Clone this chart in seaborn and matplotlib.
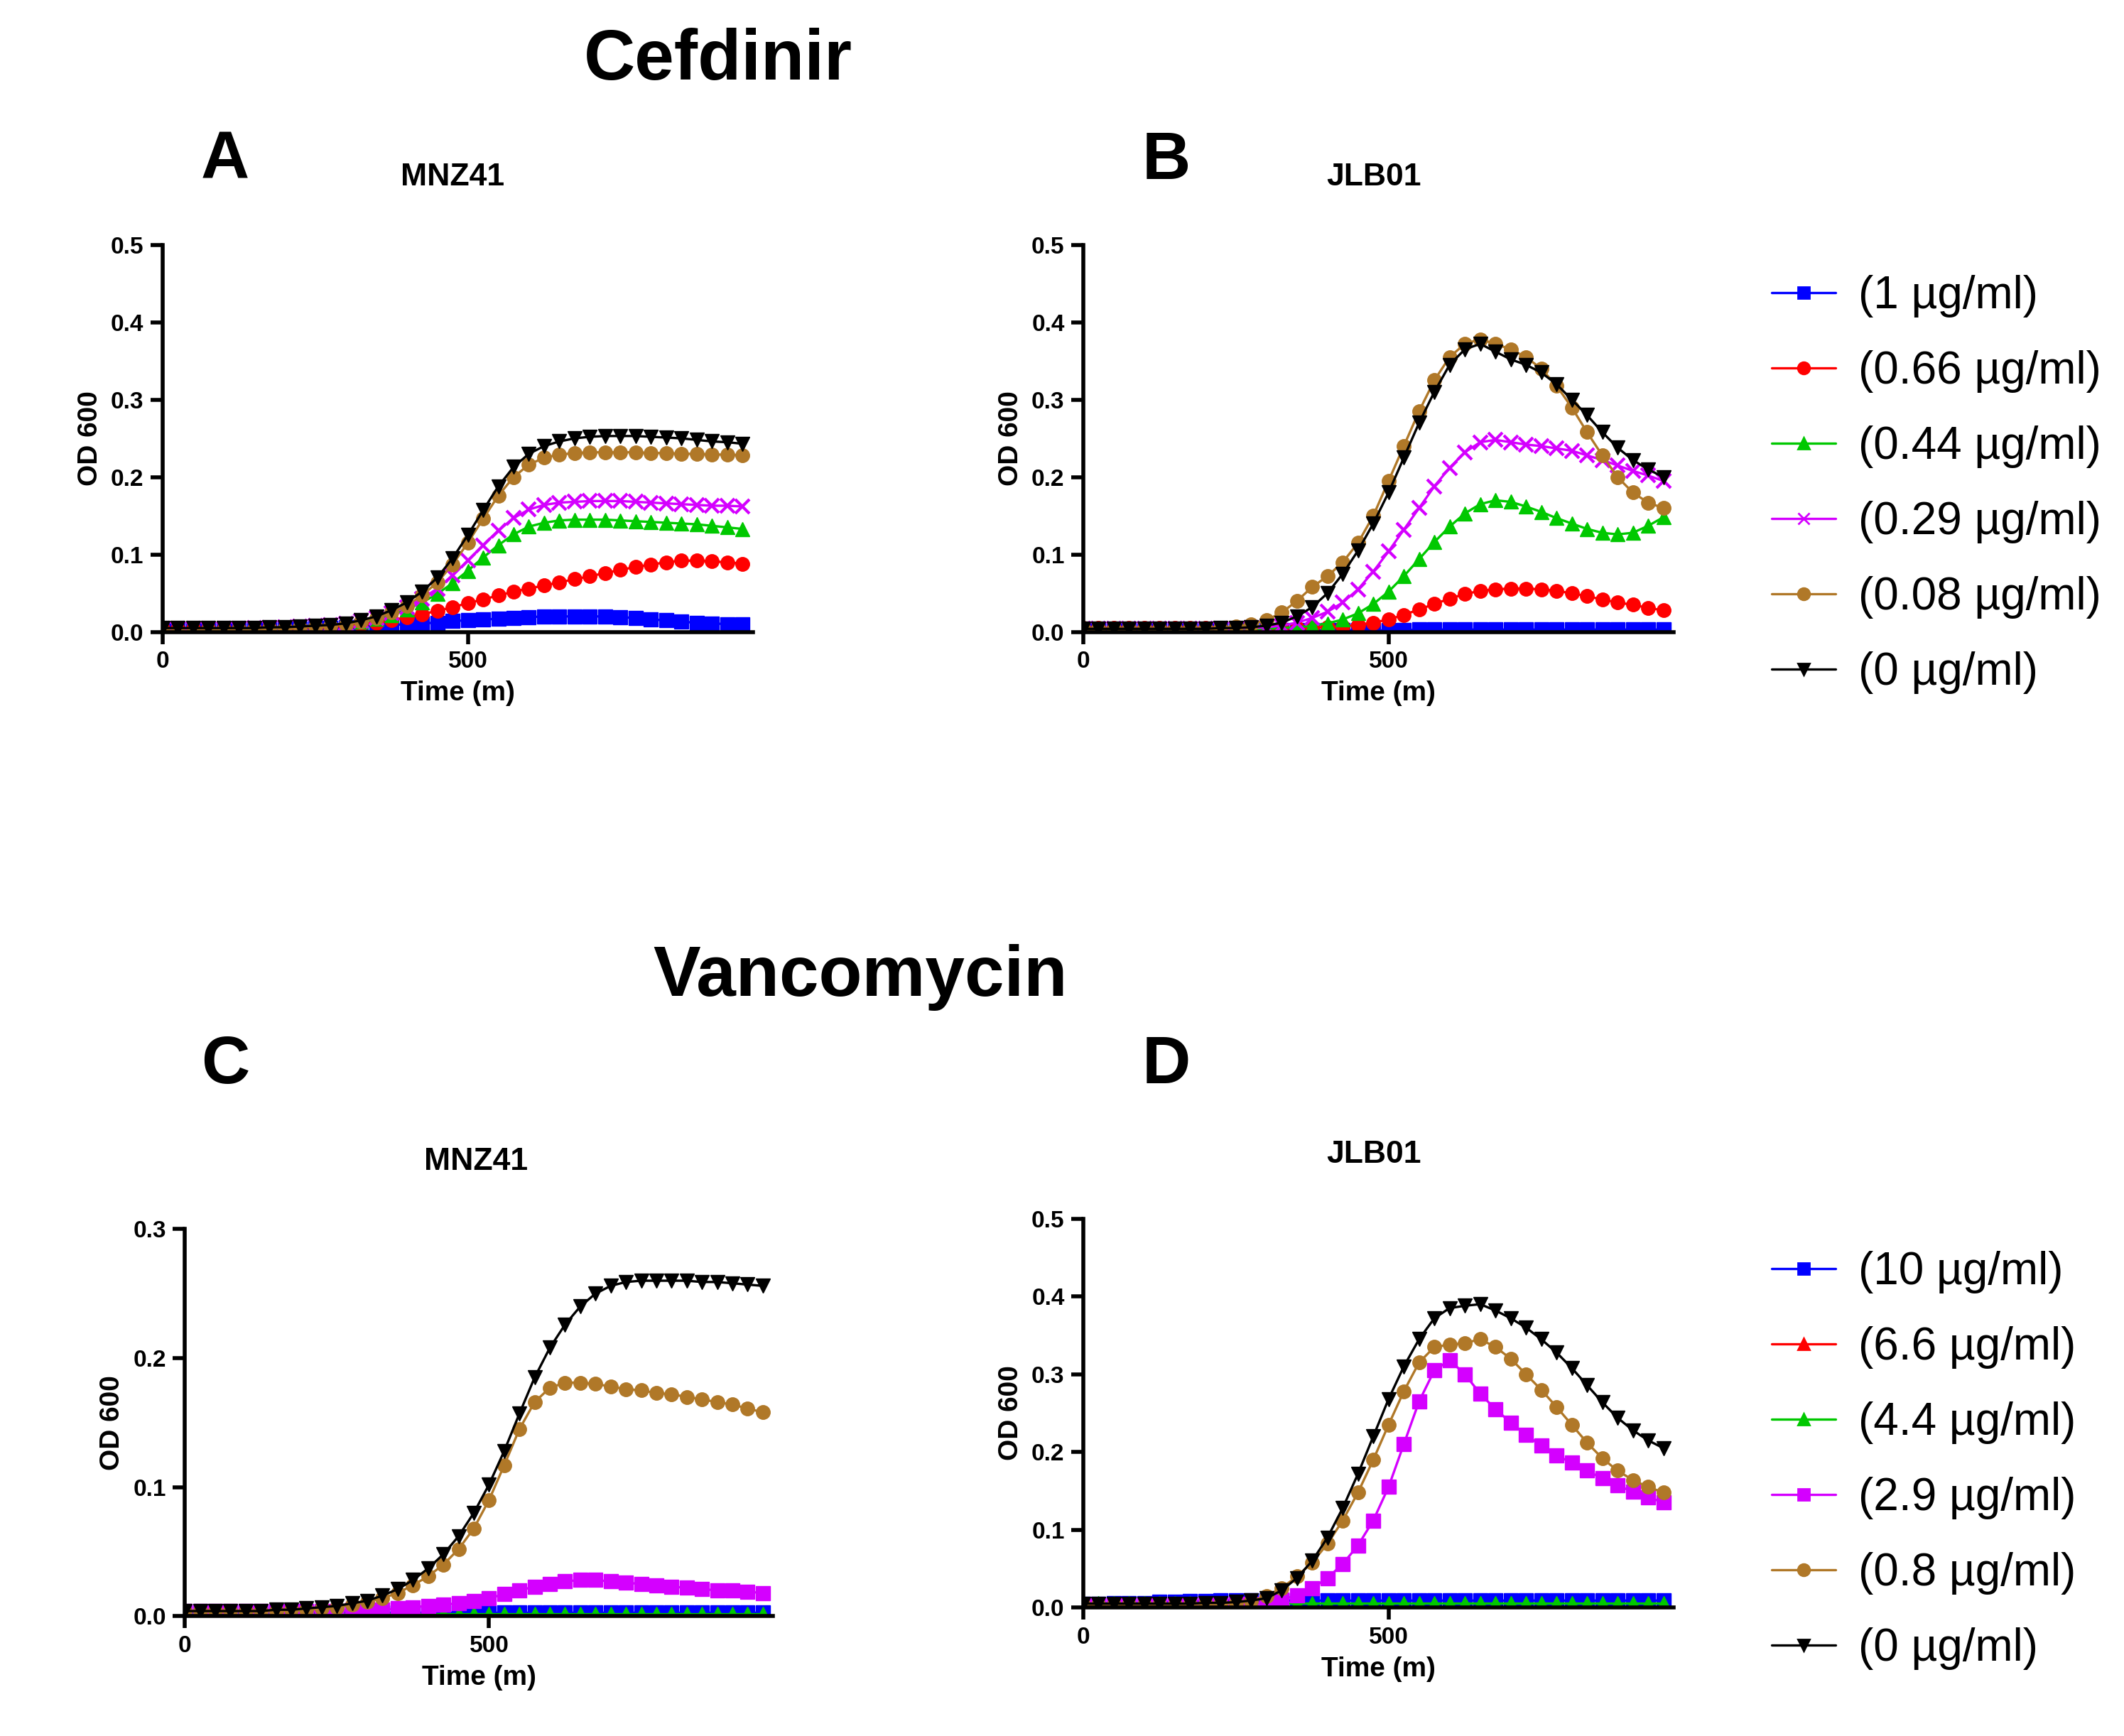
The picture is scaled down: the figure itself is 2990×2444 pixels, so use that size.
import matplotlib
matplotlib.use("Agg")
import matplotlib.pyplot as plt
import seaborn as sns
from matplotlib.lines import Line2D

sns.set_theme(style="ticks")
plt.rcParams['font.family'] = ['Liberation Sans', 'DejaVu Sans']
plt.rcParams['text.color'] = 'black'
plt.rcParams['axes.labelcolor'] = 'black'
plt.rcParams['xtick.color'] = 'black'
plt.rcParams['ytick.color'] = 'black'

t = [0,25,50,75,100,125,150,175,200,225,250,275,300,325,350,375,400,425,450,475,
     500,525,550,575,600,625,650,675,700,725,750,775,800,825,850,875,900,925,950]

A_black = [0.005,0.005,0.005,0.005,0.005,0.005,0.005,0.006,0.006,0.007,0.008,0.009,0.011,0.015,0.020,0.028,0.038,0.052,0.070,0.095,0.125,0.157,0.188,0.213,0.230,0.240,0.246,0.250,0.252,0.253,0.253,0.253,0.252,0.251,0.250,0.248,0.246,0.245,0.243]
A_brown = [0.001,0.001,0.001,0.002,0.002,0.003,0.003,0.004,0.005,0.006,0.007,0.008,0.010,0.013,0.018,0.025,0.034,0.047,0.064,0.087,0.115,0.146,0.176,0.200,0.216,0.225,0.229,0.231,0.232,0.232,0.232,0.232,0.231,0.231,0.230,0.230,0.229,0.229,0.228]
A_magenta = [0.004,0.004,0.004,0.004,0.004,0.004,0.005,0.005,0.006,0.007,0.008,0.009,0.011,0.014,0.018,0.024,0.032,0.043,0.056,0.073,0.092,0.112,0.131,0.147,0.158,0.164,0.167,0.168,0.169,0.169,0.169,0.168,0.167,0.166,0.165,0.164,0.163,0.163,0.162]
A_green = [0.004,0.004,0.004,0.004,0.004,0.004,0.005,0.005,0.006,0.007,0.008,0.009,0.011,0.013,0.017,0.022,0.029,0.038,0.049,0.063,0.079,0.096,0.112,0.126,0.136,0.141,0.144,0.145,0.145,0.145,0.144,0.143,0.142,0.141,0.140,0.139,0.137,0.135,0.133]
A_red = [0.004,0.004,0.004,0.004,0.004,0.004,0.004,0.005,0.005,0.005,0.006,0.007,0.008,0.010,0.012,0.015,0.019,0.023,0.027,0.032,0.037,0.042,0.047,0.052,0.056,0.060,0.064,0.068,0.072,0.076,0.080,0.084,0.087,0.090,0.092,0.092,0.091,0.090,0.088]
A_blue = [0.003,0.003,0.003,0.003,0.003,0.003,0.003,0.004,0.004,0.004,0.005,0.005,0.006,0.007,0.008,0.009,0.010,0.011,0.012,0.014,0.015,0.016,0.017,0.018,0.019,0.020,0.020,0.020,0.020,0.020,0.019,0.018,0.016,0.015,0.013,0.012,0.011,0.010,0.010]

B_black = [0.004,0.004,0.004,0.004,0.004,0.004,0.004,0.004,0.004,0.005,0.005,0.006,0.008,0.012,0.020,0.032,0.050,0.075,0.105,0.140,0.180,0.225,0.270,0.310,0.345,0.365,0.372,0.362,0.352,0.345,0.335,0.320,0.300,0.280,0.258,0.238,0.222,0.210,0.200]
B_brown = [0.004,0.004,0.004,0.004,0.004,0.004,0.004,0.004,0.004,0.005,0.007,0.010,0.015,0.025,0.040,0.058,0.072,0.090,0.115,0.150,0.195,0.240,0.285,0.325,0.355,0.372,0.378,0.372,0.365,0.355,0.340,0.318,0.290,0.258,0.228,0.200,0.180,0.167,0.160]
B_magenta = [0.004,0.004,0.004,0.004,0.004,0.004,0.004,0.004,0.004,0.004,0.004,0.005,0.006,0.008,0.012,0.018,0.026,0.038,0.055,0.078,0.104,0.132,0.160,0.188,0.212,0.232,0.245,0.248,0.245,0.242,0.240,0.237,0.234,0.228,0.222,0.215,0.208,0.202,0.195]
B_green = [0.004,0.004,0.004,0.004,0.004,0.004,0.004,0.004,0.004,0.004,0.004,0.004,0.004,0.005,0.006,0.008,0.011,0.016,0.024,0.036,0.052,0.072,0.094,0.116,0.136,0.153,0.165,0.170,0.168,0.162,0.155,0.147,0.140,0.133,0.128,0.126,0.128,0.137,0.148]
B_red = [0.005,0.005,0.005,0.005,0.005,0.005,0.005,0.005,0.005,0.005,0.005,0.005,0.005,0.005,0.005,0.006,0.006,0.007,0.009,0.012,0.016,0.022,0.029,0.036,0.043,0.049,0.053,0.055,0.056,0.056,0.055,0.053,0.050,0.046,0.042,0.038,0.035,0.031,0.028]
B_blue = [0.002,0.002,0.002,0.002,0.002,0.002,0.002,0.002,0.002,0.002,0.002,0.002,0.002,0.002,0.002,0.002,0.002,0.002,0.002,0.002,0.002,0.002,0.003,0.003,0.003,0.003,0.003,0.003,0.003,0.003,0.003,0.003,0.003,0.003,0.003,0.003,0.003,0.003,0.003]

C_black = [0.004,0.004,0.004,0.004,0.004,0.004,0.005,0.005,0.006,0.007,0.008,0.010,0.012,0.016,0.021,0.028,0.037,0.048,0.062,0.080,0.102,0.128,0.157,0.185,0.208,0.226,0.240,0.250,0.256,0.259,0.260,0.260,0.260,0.260,0.259,0.259,0.258,0.257,0.256]
C_brown = [0.004,0.004,0.004,0.004,0.004,0.004,0.004,0.005,0.005,0.006,0.007,0.009,0.011,0.014,0.018,0.024,0.031,0.040,0.052,0.068,0.090,0.117,0.145,0.166,0.177,0.181,0.181,0.180,0.178,0.176,0.175,0.173,0.172,0.170,0.168,0.166,0.164,0.161,0.158]
C_magenta = [0.004,0.004,0.004,0.004,0.004,0.004,0.004,0.004,0.004,0.004,0.004,0.005,0.005,0.005,0.006,0.007,0.008,0.009,0.010,0.012,0.014,0.017,0.020,0.023,0.025,0.027,0.028,0.028,0.027,0.026,0.025,0.024,0.023,0.022,0.021,0.020,0.020,0.019,0.018]
C_green = [0.002] * 39
C_blue = [0.003] * 39
C_red = [0.0005] * 39

D_black = [0.005,0.005,0.005,0.005,0.005,0.005,0.005,0.005,0.006,0.006,0.007,0.009,0.012,0.022,0.038,0.060,0.090,0.128,0.172,0.220,0.268,0.310,0.345,0.372,0.385,0.388,0.390,0.382,0.372,0.360,0.345,0.328,0.308,0.286,0.264,0.244,0.228,0.215,0.205]
D_brown = [0.004,0.004,0.004,0.004,0.004,0.004,0.004,0.004,0.005,0.005,0.006,0.008,0.015,0.025,0.040,0.058,0.082,0.112,0.148,0.190,0.235,0.278,0.315,0.335,0.338,0.340,0.345,0.335,0.320,0.300,0.280,0.258,0.235,0.212,0.192,0.176,0.164,0.155,0.148]
D_magenta = [0.004,0.004,0.004,0.004,0.004,0.004,0.004,0.004,0.004,0.004,0.005,0.005,0.006,0.010,0.016,0.025,0.038,0.056,0.080,0.112,0.155,0.210,0.265,0.305,0.318,0.300,0.275,0.255,0.238,0.222,0.208,0.196,0.186,0.176,0.166,0.157,0.149,0.142,0.135]
D_green = [0.006] * 39
D_blue = [0.005,0.005,0.006,0.006,0.006,0.007,0.007,0.008,0.008,0.009,0.009,0.009,0.009,0.009,0.009,0.009,0.009,0.009,0.009,0.009,0.009,0.009,0.009,0.009,0.009,0.009,0.009,0.009,0.009,0.009,0.009,0.009,0.009,0.009,0.009,0.009,0.009,0.009,0.009]
D_red = [-0.001] * 39

BLUE, RED, GREEN, MAG, BROWN, BLACK = '#0000FF', '#FF0000', '#00C800', '#D400FF', '#B07828', '#000000'

cef_labels = ['(1 µg/ml)', '(0.66 µg/ml)', '(0.44 µg/ml)', '(0.29 µg/ml)', '(0.08 µg/ml)', '(0 µg/ml)']
van_labels = ['(10 µg/ml)', '(6.6 µg/ml)', '(4.4 µg/ml)', '(2.9 µg/ml)', '(0.8 µg/ml)', '(0 µg/ml)']
colors = [BLUE, RED, GREEN, MAG, BROWN, BLACK]
cef_markers = ['s', 'o', '^', 'x', 'o', 'v']
van_markers = ['s', '^', '^', 's', 'o', 'v']

fig = plt.figure(figsize=(14.95, 12.22), dpi=200)

def panel(rect, series, markers, ymax, letter, lpos, title, tpos):
    ax = fig.add_axes(rect)
    for ys, c, m in zip(series, colors, markers):
        sns.lineplot(x=t, y=ys, ax=ax, color=c, marker=m, markersize=7,
                     markeredgecolor=c, linewidth=1.2, markeredgewidth=1.5 if m == 'x' else 0.5)
    ax.set_xlim(0, 967)
    ax.set_ylim(0, ymax)
    ax.set_xticks([0, 500])
    step = 0.1
    ax.set_yticks([round(i * step, 1) for i in range(int(round(ymax / step)) + 1)])
    ax.yaxis.set_major_formatter(matplotlib.ticker.FormatStrFormatter('%.1f'))
    for s in ['top', 'right']:
        ax.spines[s].set_visible(False)
    for s in ['left', 'bottom']:
        ax.spines[s].set_linewidth(2)
        ax.spines[s].set_color('black')
    ax.tick_params(width=2, length=6, labelsize=12)
    for lab in ax.get_xticklabels() + ax.get_yticklabels():
        lab.set_fontweight('bold')
    ax.set_xlabel('Time (m)', fontsize=14, fontweight='bold')
    ax.set_ylabel('OD 600', fontsize=14, fontweight='bold')
    fig.text(lpos[0], lpos[1], letter, fontsize=34, fontweight='bold', ha='center', va='center')
    fig.text(tpos[0], tpos[1], title, fontsize=16, fontweight='bold', ha='center', va='center')
    return ax

panel([0.0765, 0.636, 0.278, 0.223], [A_blue, A_red, A_green, A_magenta, A_brown, A_black],
      cef_markers, 0.5, 'A', (0.106, 0.907), 'MNZ41', (0.213, 0.898))
panel([0.510, 0.636, 0.278, 0.223], [B_blue, B_red, B_green, B_magenta, B_brown, B_black],
      cef_markers, 0.5, 'B', (0.549, 0.907), 'JLB01', (0.647, 0.898))
panel([0.087, 0.069, 0.277, 0.223], [C_blue, C_red, C_green, C_magenta, C_brown, C_black],
      van_markers, 0.3, 'C', (0.106, 0.386), 'MNZ41', (0.224, 0.331))
panel([0.510, 0.074, 0.278, 0.224], [D_blue, D_red, D_green, D_magenta, D_brown, D_black],
      van_markers, 0.5, 'D', (0.549, 0.386), 'JLB01', (0.647, 0.335))

fig.text(0.338, 0.965, 'Cefdinir', fontsize=36, fontweight='bold', ha='center', va='center')
fig.text(0.405, 0.437, 'Vancomycin', fontsize=36, fontweight='bold', ha='center', va='center')

def legend(labels, markers, y):
    handles = [Line2D([0], [0], color=c, marker=m, markersize=6, linewidth=1.2,
                      markeredgecolor=c) for c, m in zip(colors, markers)]
    fig.legend(handles, labels, loc='upper left', bbox_to_anchor=(0.815, y), frameon=False,
               fontsize=23, handlelength=1.4, labelspacing=0.72, handletextpad=0.5)

legend(cef_labels, cef_markers, 0.865)
legend(van_labels, van_markers, 0.303)

fig.savefig('out.png', dpi=200)
